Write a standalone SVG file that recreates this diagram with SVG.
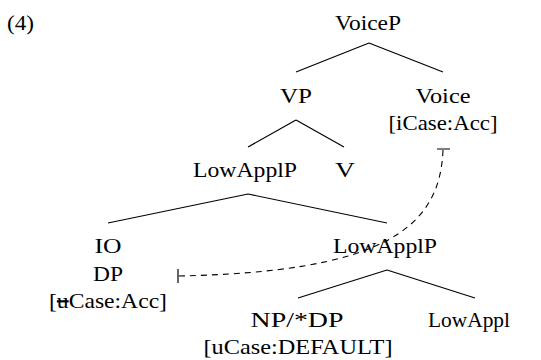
<svg xmlns="http://www.w3.org/2000/svg" width="541" height="360" viewBox="0 0 541 360">
<style>
text{font-family:"Liberation Serif","DejaVu Serif",serif;font-size:22px;fill:#000;text-anchor:middle}
.e{stroke:#000;stroke-width:1.2;fill:none}
.d{stroke:#000;stroke-width:1.1;fill:none;stroke-dasharray:6 5}
</style>
<rect width="541" height="360" fill="#fff"/>
<text x="7" y="30" style="text-anchor:start" textLength="27" lengthAdjust="spacingAndGlyphs">(4)</text>
<g id="voiceP"><text x="368" y="30" textLength="66" lengthAdjust="spacingAndGlyphs">VoiceP</text></g>
<g id="vp"><text x="296" y="103" textLength="32" lengthAdjust="spacingAndGlyphs">VP</text></g>
<g id="voice"><text x="443" y="103" textLength="55" lengthAdjust="spacingAndGlyphs">Voice</text><text x="443" y="130" textLength="109" lengthAdjust="spacingAndGlyphs">[iCase:Acc]</text></g>
<g id="lowapplP1"><text x="245" y="177" textLength="104" lengthAdjust="spacingAndGlyphs">LowApplP</text></g>
<g id="v"><text x="345" y="177" textLength="20" lengthAdjust="spacingAndGlyphs">V</text></g>
<g id="io"><text x="108" y="253" textLength="27" lengthAdjust="spacingAndGlyphs">IO</text><text x="108" y="281" textLength="30" lengthAdjust="spacingAndGlyphs">DP</text><text x="108" y="308" textLength="118" lengthAdjust="spacingAndGlyphs">[<tspan text-decoration="line-through">u</tspan>Case:Acc]</text></g>
<g id="lowapplP2"><text x="385" y="253" textLength="104" lengthAdjust="spacingAndGlyphs">LowApplP</text></g>
<g id="np"><text x="297" y="327" textLength="93" lengthAdjust="spacingAndGlyphs">NP/*DP</text><text x="298" y="354" textLength="189" lengthAdjust="spacingAndGlyphs">[uCase:DEFAULT]</text></g>
<g id="lowappl"><text x="469" y="327" textLength="82" lengthAdjust="spacingAndGlyphs">LowAppl</text></g>
<g id="connectors">
<path class="e" d="M369 43L296 72M369 43L443 72"/>
<path class="e" d="M296 120L248 147M296 120L344 147"/>
<path class="e" d="M248 194L108 223M248 194L387 223"/>
<path class="e" d="M387 270L298 298M387 270L475 298"/>
<path class="e" d="M437 149H450M178 269V283"/>
<path class="d" d="M443 150C440 230 380 272 178 276"/>
</g>
</svg>
